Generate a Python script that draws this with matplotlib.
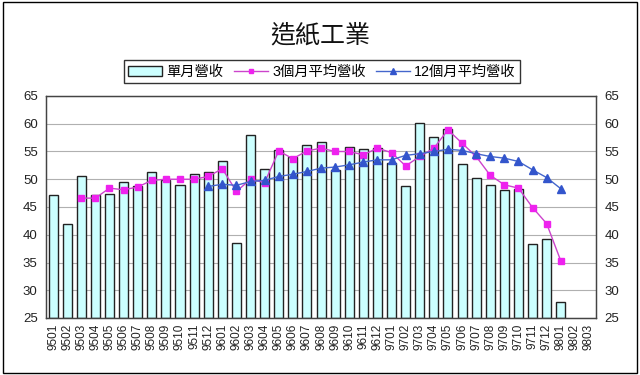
import matplotlib
matplotlib.use("Agg")
import matplotlib.pyplot as plt
from matplotlib.patches import Rectangle
import numpy as np

plt.rcParams['font.family'] = ['Liberation Sans', 'Noto Sans CJK TC', 'DejaVu Sans']

months = ['9501','9502','9503','9504','9505','9506','9507','9508','9509','9510','9511','9512',
          '9601','9602','9603','9604','9605','9606','9607','9608','9609','9610','9611','9612',
          '9701','9702','9703','9704','9705','9706','9707','9708','9709','9710','9711','9712',
          '9801','9802','9803']

monthly = [47.1, 41.9, 50.6, 47.1, 47.4, 49.5, 48.8, 51.3, 49.8, 49.0, 50.9, 51.3,
           53.2, 38.6, 57.9, 51.8, 55.2, 54.0, 56.1, 56.8, 51.7, 55.9, 55.4, 55.6,
           52.9, 48.8, 60.1, 57.7, 59.0, 52.7, 50.2, 49.0, 48.0, 48.2, 38.4, 39.3,
           27.8, None, None]

avg3 = [None, None, 46.6, 46.6, 48.4, 48.1, 48.6, 49.8, 50.0, 50.0, 50.0, 50.5,
        51.9, 47.8, 50.0, 49.4, 55.1, 53.7, 55.1, 55.6, 55.0, 55.0, 54.4, 55.6,
        54.8, 52.4, 54.1, 55.6, 58.9, 56.5, 54.1, 50.7, 49.0, 48.4, 44.9, 42.0,
        35.3, None, None]

avg12 = [None]*11 + [48.7,
         49.1, 48.9, 49.6, 49.8, 50.5, 50.9, 51.4, 52.0, 52.2, 52.6, 53.1, 53.5,
         53.5, 54.3, 54.6, 55.0, 55.4, 55.2, 54.6, 54.1, 53.8, 53.2, 51.7, 50.3,
         48.3, None, None]

def arr(v):
    return np.array([np.nan if x is None else x for x in v], dtype=float)

x = np.arange(len(months))
fig = plt.figure(figsize=(6.4, 3.75), dpi=100)
fig.patches.append(Rectangle((0.004, 0.006), 0.992, 0.988, transform=fig.transFigure,
                             fill=False, edgecolor='black', linewidth=1.0))

ax = fig.add_axes([0.0719, 0.152, 0.8594, 0.592])
ax.set_ylim(25, 65)
ax.set_xlim(-0.5, len(months) - 0.5)
ax.set_yticks(np.arange(25, 66, 5))
ax.yaxis.grid(True, color='#b0b0b0', linewidth=0.8)
ax.set_axisbelow(True)

m = arr(monthly)
bottoms = 25
bars = ax.bar(x, m - bottoms, bottom=bottoms, width=0.64, color='#ccffff', edgecolor='#222222',
              linewidth=1.0, label='單月營收', zorder=2)
l3, = ax.plot(x, arr(avg3), color='#cc44cc', linewidth=1.0, marker='s', markersize=5,
              markerfacecolor='#ee22ee', markeredgecolor='#ee22ee', label='3個月平均營收', zorder=3)
l12, = ax.plot(x, arr(avg12), color='#4466cc', linewidth=1.0, marker='^', markersize=5.5,
               markerfacecolor='#3355cc', markeredgecolor='#3355cc', label='12個月平均營收', zorder=3)

ax.set_xticks(x)
ax.set_xticklabels(months, rotation=90, fontsize=8.5, color='#222222')
ax.tick_params(axis='both', length=0, pad=4)
ax.tick_params(axis='y', labelsize=9.5, labelcolor='#222222', pad=6)

ax2 = ax.twinx()
ax2.set_ylim(25, 65)
ax2.set_yticks(np.arange(25, 66, 5))
ax2.tick_params(axis='y', length=0, labelsize=9.5, labelcolor='#222222', pad=6)

for a in (ax, ax2):
    for s in a.spines.values():
        s.set_color('#444444')
        s.set_linewidth(0.9)

fig.text(0.5, 0.905, '造紙工業', ha='center', va='center', fontsize=18,
         family=['Noto Sans CJK TC'], color='#111111')

leg = fig.legend([bars, l3, l12], ['單月營收', '3個月平均營收', '12個月平均營收'],
                 loc='center', bbox_to_anchor=(0.503, 0.809), ncol=3,
                 frameon=True, fancybox=False, edgecolor='black', handlelength=2.4,
                 columnspacing=0.7, handletextpad=0.3, borderpad=0.3, borderaxespad=0,
                 markerscale=0.7,
                 prop={'family': ['Liberation Sans', 'Noto Sans CJK TC'], 'size': 10.3})
leg.get_frame().set_linewidth(1.0)

fig.savefig('out.png', dpi=100)
